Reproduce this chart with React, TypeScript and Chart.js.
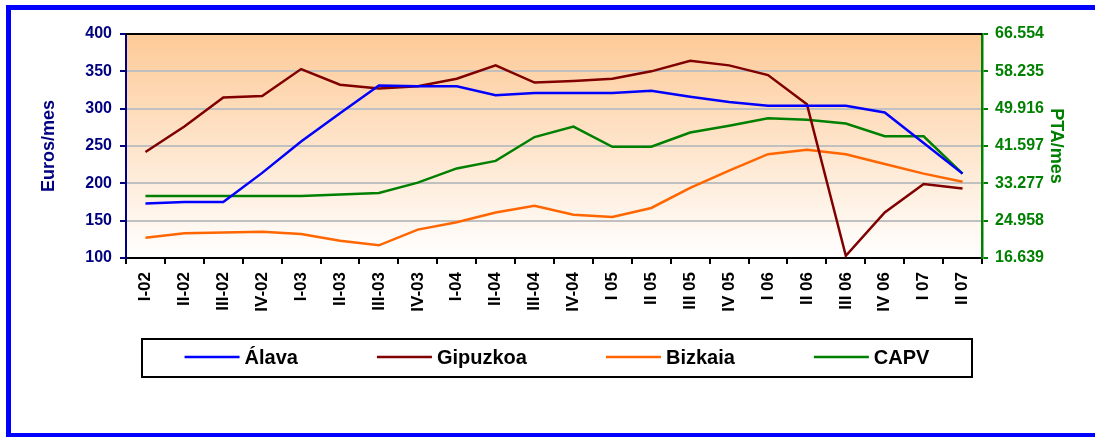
import React, { useEffect, useRef } from "react";
import { Chart, registerables } from "chart.js";

Chart.register(...registerables);

const categories = [
  "I-02", "II-02", "III-02", "IV-02",
  "I-03", "II-03", "III-03", "IV-03",
  "I-04", "II-04", "III-04", "IV-04",
  "I 05", "II 05", "III 05", "IV 05",
  "I 06", "II 06", "III 06", "IV 06",
  "I 07", "II 07",
];

const alava = [173, 175, 175, 214, 256, 294, 331, 330, 330, 318, 321, 321, 321, 324, 316, 309, 304, 304, 304, 295, 254, 213];
const gipuzkoa = [242, 276, 315, 317, 353, 332, 327, 330, 340, 358, 335, 337, 340, 350, 364, 358, 345, 306, 103, 161, 199, 193];
const bizkaia = [127, 133, 134, 135, 132, 123, 117, 138, 148, 161, 170, 158, 155, 167, 194, 217, 239, 245, 239, 226, 213, 202];
const capv = [183, 183, 183, 183, 183, 185, 187, 201, 220, 230, 262, 276, 249, 249, 268, 277, 287, 285, 280, 263, 263, 213];

const seriesNames = ["Álava", "Gipuzkoa", "Bizkaia", "CAPV"];
const seriesColors = ["#0000FF", "#800000", "#FF6600", "#008000"];

const leftTickValues = [100, 150, 200, 250, 300, 350, 400];
const rightTickLabels = ["16.639", "24.958", "33.277", "41.597", "49.916", "58.235", "66.554"];

const FONT = "Arial, 'Liberation Sans', sans-serif";

const bgPlugin = {
  id: "plotBg",
  beforeDraw(chart: any) {
    const { ctx, chartArea } = chart;
    if (!chartArea) return;
    const g = ctx.createLinearGradient(0, chartArea.top, 0, chartArea.bottom);
    g.addColorStop(0, "#FDCA97");
    g.addColorStop(1, "#FFFFFF");
    ctx.save();
    ctx.fillStyle = g;
    ctx.fillRect(chartArea.left, chartArea.top, chartArea.right - chartArea.left, chartArea.bottom - chartArea.top);
    ctx.restore();
  },
  afterDatasetsDraw(chart: any) {
    const { ctx, chartArea } = chart;
    ctx.save();
    ctx.strokeStyle = "#000000";
    ctx.lineWidth = 2;
    ctx.beginPath();
    ctx.moveTo(chartArea.left, chartArea.top);
    ctx.lineTo(chartArea.right, chartArea.top);
    ctx.stroke();
    ctx.restore();
  },
};

const legendPlugin = {
  id: "boxLegend",
  afterDraw(chart: any) {
    const { ctx, chartArea } = chart;
    const boxL = chartArea.left + 16;
    const boxR = chartArea.right - 10;
    const boxT = 339;
    const boxB = 377;
    ctx.save();
    ctx.strokeStyle = "#000000";
    ctx.lineWidth = 2;
    ctx.strokeRect(boxL, boxT, boxR - boxL, boxB - boxT);
    ctx.font = `bold 20px ${FONT}`;
    ctx.textBaseline = "middle";
    ctx.textAlign = "left";
    const lineW = 55;
    const gapLT = 5;
    const gap = 79;
    const ds = chart.data.datasets;
    const widths = ds.map((d: any) => lineW + gapLT + ctx.measureText(d.label).width);
    const total = widths.reduce((a: number, b: number) => a + b, 0) + gap * (ds.length - 1);
    let x = (boxL + boxR) / 2 - total / 2;
    const cy = (boxT + boxB) / 2 - 1;
    ds.forEach((d: any, i: number) => {
      ctx.strokeStyle = d.borderColor;
      ctx.lineWidth = 2.5;
      ctx.beginPath();
      ctx.moveTo(x, cy);
      ctx.lineTo(x + lineW, cy);
      ctx.stroke();
      ctx.fillStyle = "#000000";
      ctx.fillText(d.label, x + lineW + gapLT, cy + 1);
      x += widths[i] + gap;
    });
    ctx.restore();
  },
};

export default function App() {
  const ref = useRef<HTMLCanvasElement | null>(null);

  useEffect(() => {
    if (!ref.current) return;
    const seriesData = [alava, gipuzkoa, bizkaia, capv];
    const chart = new Chart(ref.current, {
      type: "line",
      data: {
        labels: categories,
        datasets: seriesData.map((d, i) => ({
          label: seriesNames[i],
          data: d,
          borderColor: seriesColors[i],
          backgroundColor: seriesColors[i],
          borderWidth: 2.5,
          pointRadius: 0,
          tension: 0,
          fill: false,
          yAxisID: "y",
        })),
      },
      options: {
        animation: false,
        responsive: false,
        maintainAspectRatio: false,
        layout: { padding: { top: 34, left: 0, right: 0, bottom: 0 } },
        plugins: {
          legend: { display: false },
          tooltip: { enabled: false },
        },
        scales: {
          x: {
            type: "category",
            offset: true,
            afterFit: (s: any) => { s.height = 179; },
            grid: {
              offset: true,
              drawOnChartArea: false,
              drawTicks: true,
              tickLength: 6,
              tickColor: "#000000",
              lineWidth: 2,
            },
            border: { color: "#000000", width: 2 },
            ticks: {
              autoSkip: false,
              minRotation: 90,
              maxRotation: 90,
              padding: 8,
              color: "#000000",
              font: { family: FONT, size: 17, weight: "bold" },
            },
          },
          y: {
            type: "linear",
            position: "left",
            min: 100,
            max: 400,
            afterFit: (s: any) => { s.width = 126; },
            afterBuildTicks: (s: any) => { s.ticks = leftTickValues.map((v) => ({ value: v })); },
            grid: {
              color: "#C0C0C0",
              lineWidth: 2,
              tickColor: "#000080",
              tickLength: 6,
            },
            border: { color: "#000080", width: 2 },
            ticks: {
              padding: 8,
              color: "#000080",
              font: { family: FONT, size: 16, weight: "bold" },
            },
            title: {
              display: true,
              text: "Euros/mes",
              color: "#000080",
              font: { family: FONT, size: 18, weight: "bold" },
              padding: { top: 38, bottom: 0 },
            },
          },
          y2: {
            type: "linear",
            position: "right",
            min: 100,
            max: 400,
            afterFit: (s: any) => { s.width = 113; },
            afterBuildTicks: (s: any) => { s.ticks = leftTickValues.map((v) => ({ value: v })); },
            grid: {
              drawOnChartArea: false,
              tickColor: "#008000",
              tickLength: 6,
              lineWidth: 2,
            },
            border: { color: "#008000", width: 2.5 },
            ticks: {
              padding: 7,
              color: "#008000",
              font: { family: FONT, size: 16, weight: "bold" },
              callback: (_v: any, i: number) => rightTickLabels[i],
            },
            title: {
              display: true,
              text: "PTA/mes",
              color: "#008000",
              font: { family: FONT, size: 18, weight: "bold" },
              padding: { top: 28, bottom: 0 },
            },
          },
        },
      } as any,
      plugins: [bgPlugin, legendPlugin],
    });
    return () => chart.destroy();
  }, []);

  return (
    <div style={{ position: "fixed", left: 0, top: 0, width: 1095, height: 437, background: "#FFFFFF", overflow: "hidden" }}>
      <div
        style={{
          position: "absolute",
          left: 6,
          top: 5,
          width: 1089,
          height: 433,
          boxSizing: "border-box",
          borderTop: "5px solid #0000FF",
          borderLeft: "5px solid #0000FF",
          borderBottom: "5px solid #0000FF",
        }}
      />
      <canvas ref={ref} width={1095} height={437} style={{ position: "absolute", left: 0, top: 0, width: 1095, height: 437 }} />
    </div>
  );
}
